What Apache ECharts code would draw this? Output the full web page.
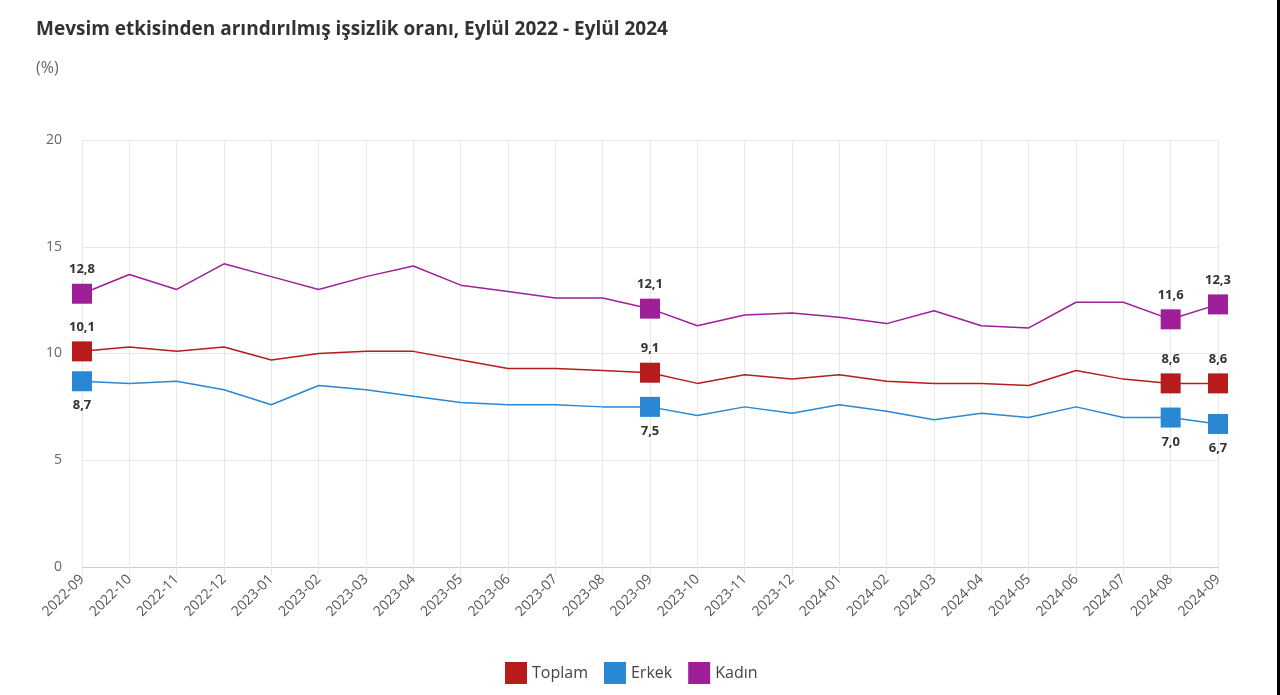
<!DOCTYPE html>
<html>
<head>
<meta charset="utf-8">
<script src="https://cdn.jsdelivr.net/npm/echarts@6/dist/echarts.min.js"></script>
<style>
  html, body { margin: 0; padding: 0; background: #fff; }
  #chart { width: 1277px; height: 695px; border-right: 3px solid #000; }
</style>
</head>
<body>
<div id="chart"></div>
<script>
// aylar
const months = [
  "2022-09", "2022-10", "2022-11", "2022-12", "2023-01", "2023-02", "2023-03",
  "2023-04", "2023-05", "2023-06", "2023-07", "2023-08", "2023-09", "2023-10",
  "2023-11", "2023-12", "2024-01", "2024-02", "2024-03", "2024-04", "2024-05",
  "2024-06", "2024-07", "2024-08", "2024-09"
];

const toplam = [10.1, 10.3, 10.1, 10.3, 9.7, 10.0, 10.1, 10.1, 9.7, 9.3, 9.3, 9.2, 9.1,
  8.6, 9.0, 8.8, 9.0, 8.7, 8.6, 8.6, 8.5, 9.2, 8.8, 8.6, 8.6];
const erkek = [8.7, 8.6, 8.7, 8.3, 7.6, 8.5, 8.3, 8.0, 7.7, 7.6, 7.6, 7.5, 7.5,
  7.1, 7.5, 7.2, 7.6, 7.3, 6.9, 7.2, 7.0, 7.5, 7.0, 7.0, 6.7];
const kadin = [12.8, 13.7, 13.0, 14.2, 13.6, 13.0, 13.6, 14.1, 13.2, 12.9, 12.6, 12.6, 12.1,
  11.3, 11.8, 11.9, 11.7, 11.4, 12.0, 11.3, 11.2, 12.4, 12.4, 11.6, 12.3];

// isaretli noktalar
const markedIdx = [0, 12, 23, 24];

const yTicks = { min: 0, max: 20, interval: 5 };

const fmt = v => String(v.toFixed(1)).replace(".", ",");

function buildSeries(name, values, color, labelPos) {
  return {
    name: name,
    type: "line",
    showAllSymbol: true,
    symbol: "rect",
    symbolSize: 20,
    lineStyle: { color: color, width: 1.5 },
    itemStyle: { color: color },
    emphasis: { disabled: true },
    data: values.map((v, i) => {
      const marked = markedIdx.includes(i);
      return {
        value: v,
        symbol: marked ? "rect" : "none",
        label: {
          show: marked,
          position: labelPos,
          distance: 8,
          formatter: p => fmt(p.value),
          color: "#333",
          fontSize: 13,
          fontWeight: "bold",
          fontFamily: "Open Sans"
        }
      };
    })
  };
}

const chart = echarts.init(document.getElementById("chart"));

chart.setOption({
  animation: false,
  backgroundColor: "#fff",
  title: [
    {
      text: "Mevsim etkisinden arındırılmış işsizlik oranı, Eylül 2022 - Eylül 2024",
      left: 31,
      top: 15,
      textStyle: { fontFamily: "Open Sans", fontSize: 19, fontWeight: "bold", color: "#333" }
    },
    {
      text: "(%)",
      left: 31,
      top: 55,
      textStyle: { fontFamily: "Open Sans", fontSize: 16, fontWeight: "normal", color: "#666" }
    }
  ],
  legend: {
    bottom: 6,
    left: 500,
    icon: "rect",
    itemWidth: 22,
    itemHeight: 22,
    itemGap: 16,
    textStyle: { fontFamily: "Open Sans", fontSize: 16, color: "#444" },
    data: ["Toplam", "Erkek", "Kadın"]
  },
  grid: { left: 82, right: 59, top: 140, bottom: 128 },
  xAxis: {
    type: "category",
    data: months,
    boundaryGap: false,
    axisLine: { show: true, lineStyle: { color: "#ccc" } },
    axisTick: { show: true, length: 8, lineStyle: { color: "#e6e6e6" } },
    splitLine: { show: true, lineStyle: { color: "#e8e8e8" } },
    axisLabel: {
      rotate: 45,
      interval: 0,
      margin: 10,
      fontFamily: "Open Sans",
      fontSize: 14,
      color: "#555"
    }
  },
  yAxis: {
    type: "value",
    min: yTicks.min,
    max: yTicks.max,
    interval: yTicks.interval,
    axisLine: { show: false },
    axisTick: { show: false },
    splitLine: { lineStyle: { color: "#e8e8e8" } },
    axisLabel: { margin: 20, fontFamily: "Open Sans", fontSize: 14, color: "#666" }
  },
  series: [
    buildSeries("Toplam", toplam, "#b71c1c", "top"),
    buildSeries("Erkek", erkek, "#2a87d3", "bottom"),
    buildSeries("Kadın", kadin, "#9e1f98", "top")
  ]
});
</script>
</body>
</html>
